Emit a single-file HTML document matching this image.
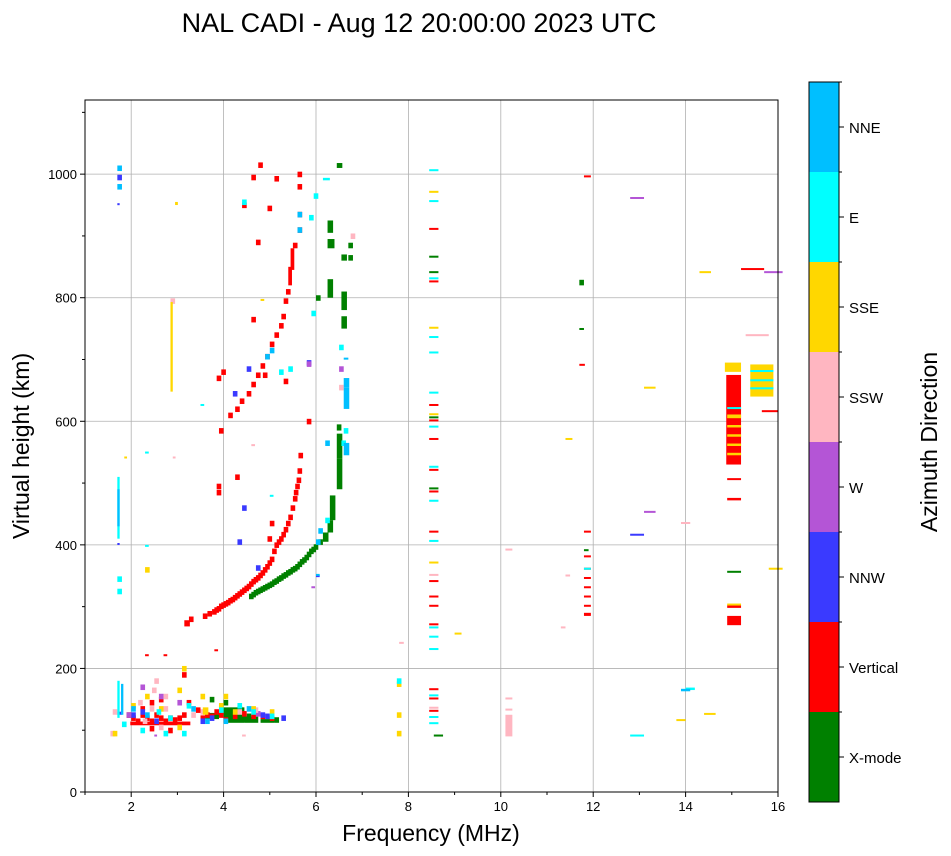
<!DOCTYPE html>
<html><head><meta charset="utf-8"><style>
html,body{margin:0;padding:0;background:#fff;}
svg{display:block;font-family:"Liberation Sans","DejaVu Sans",sans-serif;}
</style></head><body>
<svg id="chart" width="951" height="856" viewBox="0 0 951 856">
<text x="419" y="32" font-size="27" text-anchor="middle">NAL CADI - Aug 12 20:00:00 2023 UTC</text>
<g id="grid"></g>
<g id="marks"></g>
<rect x="85" y="100" width="693" height="692" fill="none" stroke="#000" stroke-width="1"/>
<g id="axes"></g>
<text x="431" y="841" font-size="23" text-anchor="middle">Frequency (MHz)</text>
<text transform="translate(29,446) rotate(-90)" font-size="23" text-anchor="middle">Virtual height (km)</text>
<g id="cbar"></g>
<text transform="translate(937,442) rotate(-90)" font-size="23" text-anchor="middle">Azimuth Direction</text>
</svg>
<script>
const directions = ["X-mode","Vertical","NNW","W","SSW","SSE","E","NNE"];
const colors = ["#008000","#ff0000","#3a3aff","#b455d6","#ffb6c1","#ffd700","#00ffff","#00bfff"];
const xTicks = [2,4,6,8,10,12,14,16];
const yTicks = [0,200,400,600,800,1000];
// each echo: [freq MHz, height km, freq extent, height extent]
const xmodeEchoes = [[4.55,312],[4.6,315],[4.65,318],[4.7,320],[4.75,322],[4.8,324],[4.85,326],[4.9,328],[4.95,330],[5.0,332],[5.05,335],[5.1,337],[5.15,340],[5.2,342],[5.25,345],[5.3,347],[5.35,350],[5.4,352],[5.45,355],[5.5,357],[5.55,360],[5.6,364],[5.65,368],[5.7,371],[5.75,375],[5.8,380],[5.85,385],[5.9,388],[5.95,392],[6.05,400],[6.15,405,0.12,15],[6.25,420,0.12,20],[6.3,440,0.12,40],[6.45,490,0.12,50],[6.45,540,0.12,40],[6.45,585,0.1,10],[6.55,750,0.12,20],[6.55,780,0.12,30],[6.25,800,0.12,30],[6.25,880,0.15,15],[6.25,905,0.12,20],[6.55,860,0.12,10],[6.45,1010,0.12,8],[6.7,880],[6.7,860],[6.0,795],[8.45,865,0.2,3],[8.45,840,0.2,3],[8.45,605,0.2,3],[8.45,490,0.2,3],[8.55,90,0.2,3],[11.7,820],[11.7,748,0.1,3],[11.8,390,0.1,3],[14.9,355,0.3,3],[3.6,118,0.3,10],[4.0,112,0.45,25],[4.3,113,0.2,10],[4.45,112,0.3,10],[4.5,118],[4.8,112,0.3,6],[5.0,113],[5.1,112],[4.0,140],[3.7,145],[4.3,130]];
const verticalEchoes = [[3.15,268,0.12,10],[3.25,275],[3.55,280],[3.65,284],[3.75,287],[3.8,290],[3.85,292],[3.9,296],[3.95,298],[4.0,300],[4.05,302],[4.1,305],[4.15,307],[4.2,310],[4.25,313],[4.3,316],[4.35,319],[4.4,322],[4.45,325],[4.5,328],[4.55,332],[4.6,336],[4.65,339],[4.7,342],[4.75,346],[4.8,350],[4.85,355],[4.9,360],[4.95,366],[5.0,372],[5.05,385],[5.1,395],[5.15,400],[5.2,405],[5.25,412],[5.3,420],[5.35,430],[5.4,440],[5.45,455],[5.5,470],[5.52,480],[5.55,490],[5.58,500],[5.6,515],[5.62,540],[4.95,405],[5.0,430],[3.85,480],[3.85,490],[4.25,505],[3.9,580],[4.1,605],[4.25,615],[4.35,628],[4.5,640],[4.6,655],[4.7,670],[4.8,685],[4.9,700],[5.0,720],[5.1,735],[5.2,750],[5.25,765],[5.3,790],[5.35,805],[5.4,820,0.08,30],[5.45,845,0.08,35],[5.5,880],[5.6,905],[5.6,930],[4.6,760],[4.7,885],[4.4,945],[4.6,990],[4.75,1010],[5.6,975],[5.6,995],[4.95,940],[5.1,988],[5.8,595],[3.85,665],[3.95,675],[4.85,670],[5.3,660],[11.8,995,0.15,3],[11.7,690,0.12,3],[11.8,420,0.15,3],[11.8,380,0.15,3],[11.8,360,0.15,3],[11.8,345,0.15,3],[11.8,330,0.15,3],[11.8,315,0.15,3],[11.8,300,0.15,3],[11.8,285,0.15,5],[8.45,910,0.2,3],[8.45,825,0.2,3],[8.45,625,0.2,3],[8.45,600,0.2,3],[8.45,570,0.2,3],[8.45,520,0.2,3],[8.45,485,0.2,3],[8.45,420,0.2,3],[8.45,340,0.2,3],[8.45,315,0.2,3],[8.45,300,0.2,3],[8.45,270,0.2,3],[8.45,165,0.2,3],[8.45,150,0.2,3],[8.45,130,0.2,3],[14.88,530,0.32,145],[14.9,505,0.3,3],[14.9,472,0.3,4],[14.9,298,0.3,4],[14.9,270,0.3,15],[15.2,845,0.5,3],[15.65,615,0.35,3],[1.98,108,1.3,6],[2.0,115],[2.1,110],[2.2,120],[2.3,115],[2.4,110],[2.5,120],[2.6,115],[2.7,110],[2.8,115],[2.9,112],[3.0,115],[3.1,120],[3.5,115],[3.6,120],[3.7,118],[3.9,120],[4.0,112],[4.2,118],[4.4,122],[4.6,118],[4.8,118],[5.0,115],[2.3,220,0.08,3],[2.7,220,0.08,3],[3.1,185],[2.2,130],[2.4,140],[1.9,120],[3.4,128],[3.8,125],[3.8,228,0.08,3],[2.6,145],[2.8,95],[3.2,140],[2.4,98]];
const nnwEchoes = [[1.7,950,0.05,3],[1.7,990],[4.3,400],[6.0,348,0.08,3],[4.4,455],[12.8,415,0.3,3],[4.7,358],[2.0,120],[2.2,125],[2.5,110],[4.8,120],[3.5,110],[4.2,640],[4.5,680],[5.8,690],[1.7,400,0.05,3],[1.7,125,0.1,5],[3.7,115],[4.9,118],[5.25,115]];
const wEchoes = [[12.8,960,0.3,3],[13.1,452,0.25,3],[15.7,840,0.4,3],[6.5,680],[5.8,688],[2.6,150],[3.0,140],[2.2,165],[1.9,120],[5.9,330,0.08,3],[4.7,122],[2.5,90,0.06,3]];
const sswEchoes = [[10.1,90,0.15,35],[10.1,150,0.15,3],[10.1,132,0.15,3],[7.8,240,0.1,3],[6.75,895],[15.3,738,0.5,3],[2.85,790],[8.45,350,0.2,3],[8.45,135,0.2,3],[11.3,265,0.1,3],[2.5,175],[2.7,150],[2.4,130],[3.5,125],[4.4,90,0.08,3],[4.6,560,0.08,3],[6.5,650],[2.9,540,0.06,3],[13.9,435,0.2,2],[10.1,392,0.15,2],[11.4,350,0.1,2],[1.55,90],[1.6,125],[2.25,110],[2.6,100],[3.3,120],[4.3,125],[4.65,128],[2.7,130],[2.15,140],[2.45,160]];
const sseEchoes = [[2.85,648,0.05,145],[8.45,970,0.2,3],[8.45,750,0.2,3],[8.45,610,0.2,3],[8.45,370,0.2,3],[9.0,255,0.15,3],[11.4,570,0.15,3],[13.1,653,0.25,3],[14.3,840,0.25,3],[14.4,125,0.25,3],[13.8,115,0.2,3],[15.8,360,0.3,3],[14.85,680,0.35,15],[15.4,640,0.5,52],[14.9,545,0.3,4],[14.9,560,0.3,4],[14.9,575,0.3,4],[14.9,590,0.3,4],[14.9,605,0.3,6],[14.9,302,0.3,3],[1.6,90],[2.0,135],[2.3,150],[2.6,130],[3.0,160],[3.1,195],[3.5,150],[3.9,135],[3.0,100],[4.6,130],[2.95,950,0.06,5],[1.85,540,0.06,3],[2.3,355],[7.75,120],[7.75,170],[7.75,90],[4.8,795,0.08,3],[4.0,150],[3.55,125,0.12,12],[4.2,125],[5.0,125]];
const eEchoes = [[8.45,1005,0.2,3],[8.45,955,0.2,3],[8.45,830,0.2,3],[8.45,710,0.2,3],[8.45,735,0.2,3],[8.45,645,0.2,3],[8.45,590,0.2,3],[8.45,525,0.2,3],[8.45,470,0.2,3],[8.45,405,0.2,3],[8.45,265,0.2,3],[8.45,250,0.2,3],[8.45,230,0.2,3],[8.45,155,0.2,3],[8.45,120,0.2,3],[8.45,110,0.2,3],[12.8,90,0.3,3],[14.0,165,0.2,4],[11.8,360,0.15,3],[15.4,652,0.5,3],[15.4,665,0.5,3],[15.4,680,0.5,3],[6.15,990,0.15,4],[5.95,960],[5.85,925],[4.4,950],[3.5,625,0.08,3],[5.0,478,0.08,3],[6.2,435],[2.3,548,0.08,3],[2.3,397,0.08,3],[1.7,320],[1.7,340],[1.7,410,0.05,100],[1.7,120,0.05,60],[6.55,560],[6.6,580],[2.8,115],[3.2,135],[2.2,95],[1.8,105],[4.6,125],[5.0,118],[5.9,770],[5.2,675],[5.4,680],[6.5,715],[7.75,175],[14.9,620,0.3,3],[3.9,128],[4.3,135],[2.55,125],[3.1,90],[2.7,90]];
const nneEchoes = [[6.6,620,0.12,35],[6.6,655,0.12,15],[6.6,545,0.12,20],[6.6,700,0.1,3],[1.7,1005],[1.7,975],[4.9,700],[5.0,710],[5.6,930],[5.6,905],[6.2,560],[6.0,350,0.08,3],[1.7,430,0.05,60],[13.9,163,0.2,4],[3.6,110],[4.0,110],[2.3,120],[2.0,130],[3.3,130],[4.5,130],[6.0,400],[6.05,418],[1.78,125,0.05,50]];
const echoSets = [xmodeEchoes,verticalEchoes,nnwEchoes,wEchoes,sswEchoes,sseEchoes,eEchoes,nneEchoes];

const NS="http://www.w3.org/2000/svg";
const X0=85,X1=778,Y0=792,Y1=100,FMIN=1,FMAX=16,HMIN=0,HMAX=1120;
const xs=f=>X0+(f-FMIN)/(FMAX-FMIN)*(X1-X0);
const ys=h=>Y0-(h-HMIN)/(HMAX-HMIN)*(Y0-Y1);
function mk(tag,attrs,parent){const e=document.createElementNS(NS,tag);for(const k in attrs)e.setAttribute(k,attrs[k]);parent.appendChild(e);return e;}
const grid=document.getElementById('grid'),axes=document.getElementById('axes'),marks=document.getElementById('marks'),cbar=document.getElementById('cbar');
xTicks.forEach(t=>{const x=xs(t);
 if(t<FMAX){const g=mk('line',{x1:x,x2:x,y1:Y1,y2:Y0,stroke:'#b0b0b0','stroke-width':0.8},grid);
 
 }
 mk('line',{x1:x,x2:x,y1:Y0,y2:Y0+5,stroke:'#000'},axes);
 const lb=mk('text',{x:x,y:Y0+19,'font-size':13,'text-anchor':'middle'},axes);lb.textContent=t;
 
 });
for(let f=1;f<=15;f+=2){const x=xs(f);mk('line',{x1:x,x2:x,y1:Y0,y2:Y0+3,stroke:'#000'},axes);}
yTicks.forEach(t=>{const y=ys(t);
 if(t>0){const g=mk('line',{x1:X0,x2:X1,y1:y,y2:y,stroke:'#b0b0b0','stroke-width':0.8},grid);
 
 }
 mk('line',{x1:X0-5,x2:X0,y1:y,y2:y,stroke:'#000'},axes);
 const lb=mk('text',{x:X0-8,y:y+5,'font-size':13,'text-anchor':'end'},axes);lb.textContent=t;
 
 });
for(let h=100;h<=1100;h+=200){const y=ys(h);mk('line',{x1:X0-3,x2:X0,y1:y,y2:y,stroke:'#000'},axes);}
echoSets.forEach((set,d)=>{set.forEach(p=>{
 const fw=p[2]!==undefined?p[2]:0.1,hh=p[3]!==undefined?p[3]:9;
 const x=xs(p[0]),w=xs(p[0]+fw)-x,yb=ys(p[1]),yt=ys(p[1]+hh);
 const r=mk('rect',{x:x,y:yt,width:w,height:Math.max(2,yb-yt),fill:colors[d]},marks);
 
 });});
const CB={x:809,w:30,top:82,bot:802};const seg=(CB.bot-CB.top)/directions.length;
directions.forEach((n,i)=>{const y=CB.bot-(i+1)*seg;
 const r=mk('rect',{x:CB.x,y:y,width:CB.w,height:seg,fill:colors[i]},cbar);
 
 
 const cy=y+seg/2;mk('line',{x1:CB.x+CB.w,x2:CB.x+CB.w+5,y1:cy,y2:cy,stroke:'#000'},cbar);
 mk('line',{x1:CB.x+CB.w,x2:CB.x+CB.w+3,y1:y,y2:y,stroke:'#000'},cbar);
 const t=mk('text',{x:CB.x+CB.w+10,y:cy+6,'font-size':15},cbar);t.textContent=n;
 
 });
mk('rect',{x:CB.x,y:CB.top,width:CB.w,height:CB.bot-CB.top,fill:'none',stroke:'#000'},cbar);
</script>
</body></html>
